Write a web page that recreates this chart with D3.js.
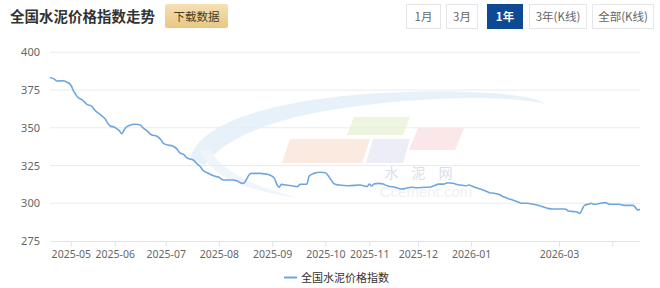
<!DOCTYPE html>
<html><head><meta charset="utf-8">
<script src="https://cdn.jsdelivr.net/npm/d3@7/dist/d3.min.js"></script>
<style>
html,body{margin:0;padding:0;background:#fff;}
svg{display:block;font-family:"Noto Sans CJK SC","Noto Sans",sans-serif;}
</style></head>
<body><svg id="c" width="660" height="288"></svg>
<script>
// ---- data ----
const title = "全国水泥价格指数走势";
const seriesName = "全国水泥价格指数";
const rangeButtons = ["1月","3月","1年","3年(K线)","全部(K线)"];
const activeButton = "1年";
// trading-day index (0..255) of each sample and the index value there
const pointIndex = [0,2,3,6,7,9,10,11,12,14,15,16,18,19,21,22,24,25,26,28,29,30,31,32,33,34,37,39,40,42,44,46,48,49,51,53,55,56,58,59,61,62,63,65,66,68,71,73,75,77,79,81,83,84,86,87,89,91,93,95,97,98,99,100,102,105,107,108,111,112,114,117,119,120,122,123,125,129,134,136,137,138,139,140,142,144,146,149,152,154,156,159,162,164,166,168,170,172,174,177,180,181,183,185,186,188,190,192,194,196,199,202,204,206,209,212,215,217,222,223,224,227,228,229,230,231,233,234,235,238,240,242,246,248,252,253,254,255];
const indexValues = [383.3,382.1,381.0,381.2,380.5,378.3,375.0,372.4,370.2,368.4,366.9,365.5,364.4,362.2,359.6,358.4,355.6,352.9,351.2,350.3,349.2,348.0,346.0,348.5,350.5,351.4,352.3,351.8,350.3,347.8,345.2,344.5,341.9,339.7,338.6,337.9,335.7,333.5,332.0,330.2,329.1,328.6,326.9,324.2,322.0,320.2,318.0,317.2,315.4,315.4,315.4,314.7,313.2,313.6,318.7,319.8,319.8,319.8,319.4,318.7,316.5,312.7,310.6,312.5,312.1,311.4,311.0,312.5,312.7,318.0,319.8,320.5,320.2,318.7,314.3,312.7,312.1,311.6,312.1,311.4,311.0,312.7,311.4,312.7,313.2,312.7,311.4,310.6,309.4,309.9,310.6,310.3,310.6,310.6,311.6,312.7,312.7,313.6,313.2,312.1,311.6,312.1,311.0,309.9,309.4,308.3,307.0,306.6,305.9,304.3,302.6,301.0,300.0,300.0,299.3,298.2,296.7,296.2,296.2,296.0,294.9,294.4,294.0,293.3,296.0,298.6,299.5,300.0,299.3,300.0,300.4,299.3,299.3,298.6,298.6,297.3,295.5,296.0];
const totalDays = 255;
const xTickIndex = [9,28,50,73,96,119,138,159,182,220,243];
const xTickLabels = ["2025-05","2025-06","2025-07","2025-08","2025-09","2025-10","2025-11","2025-12","2026-01","2026-03",""];
const yTicks = [275,300,325,350,375,400];

const data = pointIndex.map((d,i)=>({i:d, v:indexValues[i]}));

// ---- layout ----
const svg = d3.select("#c");
const m = {left:50, right:640, top:52.3, bottom:241};
const x = d3.scaleLinear().domain([0,totalDays]).range([m.left,m.right]);
const y = d3.scaleLinear().domain([275,400]).range([m.bottom,m.top]);
const lineColor = "#6ea7e0";

// header
svg.append("text").attr("x",10).attr("y",22).attr("font-size",14.5).attr("font-weight","bold")
  .attr("fill","#333").text(title);
const grad = svg.append("defs").append("linearGradient").attr("id","gold").attr("x1",0).attr("y1",0).attr("x2",0).attr("y2",1);
grad.append("stop").attr("offset","0%").attr("stop-color","#f6e0b3");
grad.append("stop").attr("offset","100%").attr("stop-color","#e9c682");
svg.append("rect").attr("x",165).attr("y",4).attr("width",63).attr("height",24).attr("rx",2).attr("fill","url(#gold)");
svg.append("text").attr("x",196.5).attr("y",20.5).attr("text-anchor","middle").attr("font-size",11.5).attr("fill","#4a3b22").text("下载数据");

const btnX = [406,446,487,529,592];
const btnW = [34,31,35,57,61];
rangeButtons.forEach((b,k)=>{
  const act = b===activeButton;
  svg.append("rect").attr("x",btnX[k]+0.5).attr("y",4.5).attr("width",btnW[k]).attr("height",24)
    .attr("fill",act?"#0d4a93":"#fff").attr("stroke",act?"#0d4a93":"#e6e6e6");
  svg.append("text").attr("x",btnX[k]+btnW[k]/2+0.5).attr("y",21).attr("text-anchor","middle")
    .attr("font-size",11.5).attr("font-weight",act?"bold":"normal").attr("fill",act?"#fff":"#666").text(b);
});

// watermark
const wm = svg.append("g").attr("opacity",0.55);
wm.append("path").attr("d","M190,160 C200,110 330,88 470,92 C510,93 540,98 545,104 C520,98 470,96 420,100 C300,108 230,130 205,165 Z")
  .attr("fill","#d5e6f6");
wm.append("path").attr("d","M200,150 C210,175 240,190 300,198 C260,188 225,175 210,150 Z").attr("fill","#e2eef9");
wm.append("path").attr("d","M354,117 L410,117 L403,135 L347,135 Z").attr("fill","#dfecc8");
wm.append("path").attr("d","M290,139 L370,139 L362,163 L282,163 Z").attr("fill","#f8d9c7");
wm.append("path").attr("d","M373,139 L410,139 L403,163 L366,163 Z").attr("fill","#dde0ef");
wm.append("path").attr("d","M418,128 L464,128 L455,150 L409,150 Z").attr("fill","#f8d3d6");
wm.append("text").attr("x",425).attr("y",178).attr("text-anchor","middle").attr("font-size",14)
  .attr("fill","#b7c6d8").attr("letter-spacing",13).text("水泥网");
wm.append("text").attr("x",426).attr("y",197).attr("text-anchor","middle").attr("font-size",15)
  .attr("font-family","Arial, Liberation Sans, sans-serif").attr("fill","#e1e6ec").text("Ccement.com");

// grid + y axis labels
const g = svg.append("g");
yTicks.forEach(t=>{
  if(t!==275) g.append("line").attr("x1",m.left).attr("x2",m.right).attr("y1",y(t)).attr("y2",y(t))
    .attr("stroke","#ebebeb").attr("stroke-width",1);
});
g.append("g").attr("transform",`translate(${m.left},0)`)
  .call(d3.axisLeft(y).tickValues(yTicks).tickSize(0).tickPadding(10))
  .call(a=>{a.select(".domain").remove(); a.selectAll("text").attr("font-size",11).attr("fill","#666").attr("font-family","Noto Sans, sans-serif");});

// x axis
const xa = svg.append("g").attr("transform",`translate(0,${m.bottom})`)
  .call(d3.axisBottom(x).tickValues(xTickIndex).tickFormat((d,k)=>xTickLabels[k]).tickSizeInner(6).tickSizeOuter(0).tickPadding(4));
xa.select(".domain").attr("stroke","#dde4ee");
xa.selectAll(".tick line").attr("stroke","#dde4ee");
xa.selectAll("text").attr("font-size",10.5).attr("fill","#666").attr("font-family","Noto Sans, sans-serif");

// line
svg.append("path").datum(data)
  .attr("d",d3.line().x(d=>x(d.i)).y(d=>y(d.v)).curve(d3.curveMonotoneX))
  .attr("fill","none").attr("stroke",lineColor).attr("stroke-width",1.6).attr("stroke-linejoin","round");

// legend
svg.append("line").attr("x1",284).attr("x2",297).attr("y1",277.5).attr("y2",277.5).attr("stroke",lineColor).attr("stroke-width",2);
svg.append("text").attr("x",301).attr("y",281.5).attr("font-size",11).attr("fill","#333").text(seriesName);
</script></body></html>
